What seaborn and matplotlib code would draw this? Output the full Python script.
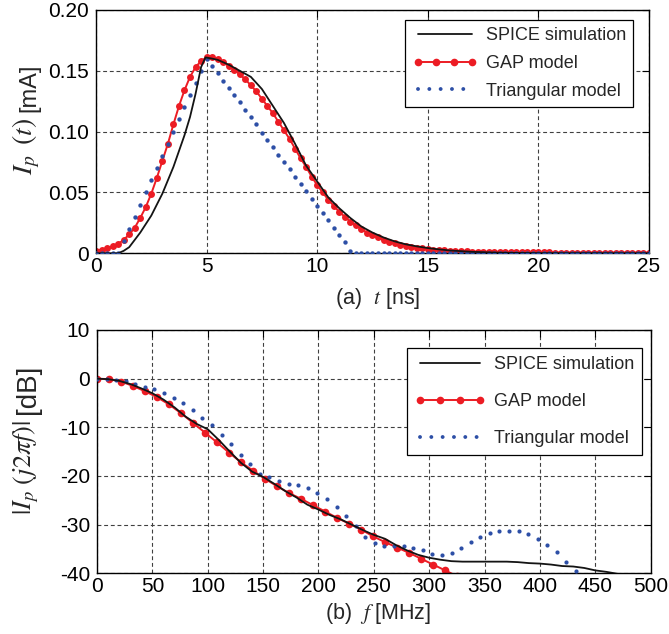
import numpy as np
import matplotlib
matplotlib.use("Agg")
import matplotlib.pyplot as plt
import seaborn as sns
from matplotlib.lines import Line2D

# ======================
# Data
# ======================

# (a) time domain, GAP model and triangular model sampled every 0.25 ns
t_ns = np.arange(0, 25.001, 0.25)

gap_i = [0.002, 0.003, 0.004, 0.0057, 0.0077, 0.011, 0.0155, 0.021, 0.029, 0.038,
         0.049, 0.062, 0.076, 0.090, 0.106, 0.121, 0.134, 0.145, 0.153, 0.158,
         0.161, 0.161, 0.160, 0.157, 0.154, 0.151, 0.147, 0.143, 0.138, 0.133,
         0.127, 0.121, 0.115, 0.108, 0.101, 0.094, 0.086, 0.078, 0.071, 0.063,
         0.056, 0.050, 0.044, 0.039, 0.034, 0.030, 0.026, 0.023, 0.020, 0.017,
         0.015, 0.013, 0.011, 0.0095, 0.0082, 0.0071, 0.0062, 0.0054, 0.0047, 0.0041,
         0.0036, 0.0031, 0.0027, 0.0024, 0.0021, 0.0019, 0.0017, 0.0015, 0.0014, 0.0013,
         0.0012, 0.0011, 0.0010, 0.0010, 0.0009, 0.0009, 0.0008, 0.0008, 0.0008, 0.0007,
         0.0007, 0.0007, 0.0007, 0.0006, 0.0006, 0.0006, 0.0006, 0.0006, 0.0006, 0.0005,
         0.0005, 0.0005, 0.0005, 0.0005, 0.0005, 0.0005, 0.0005, 0.0005, 0.0005, 0.0005,
         0.0005]

tri_i = ([0.0, 0.0, 0.0, 0.0, 0.0]
         + [0.01, 0.02, 0.03, 0.04, 0.05, 0.06, 0.07, 0.08,
            0.09, 0.10, 0.11, 0.12, 0.13, 0.14, 0.15, 0.16]
         + [0.154, 0.148, 0.142, 0.136, 0.130, 0.124, 0.118, 0.112, 0.106,
            0.099, 0.093, 0.087, 0.081, 0.075, 0.069, 0.063, 0.057, 0.051,
            0.045, 0.039, 0.033, 0.027, 0.021, 0.015, 0.009, 0.002]
         + [0.0] * 54)

# SPICE waveform (line only)
spice_t = [0, 1.0, 1.25, 1.5, 2.0, 2.5, 3.0, 3.5, 4.0, 4.25, 4.5, 4.75, 4.95,
           5.25, 5.5, 6.0, 6.5, 7.0, 7.5, 8.0, 8.5, 9.0, 9.5, 10.0, 10.5, 11.0,
           11.5, 12.0, 12.5, 13.0, 13.5, 14.0, 14.5, 15.0, 15.5, 16.0, 17.0,
           18.0, 19.0, 20.0, 25.0]
spice_i = [0, 0, 0.002, 0.005, 0.017, 0.031, 0.049, 0.071, 0.097, 0.112, 0.131,
           0.153, 0.161, 0.160, 0.159, 0.155, 0.150, 0.145, 0.135, 0.121, 0.107,
           0.090, 0.072, 0.059, 0.046, 0.037, 0.029, 0.022, 0.017, 0.013, 0.0098,
           0.0074, 0.0057, 0.0043, 0.0032, 0.0023, 0.0012, 0.0006, 0.0003, 0.0001,
           0.0]

# (b) spectrum magnitude in dB
spice_f = [0, 10, 20, 30, 40, 50, 60, 70, 80, 90, 100, 110, 120, 130, 140, 150,
           160, 170, 180, 190, 200, 210, 220, 230, 240, 250, 260, 270, 280, 290,
           300, 310, 320, 330, 340, 350, 360, 370, 380, 390, 400, 410, 420, 430,
           440, 450, 460, 475]
spice_db = [0, -0.1, -0.45, -1.1, -2.0, -3.0, -4.3, -5.9, -7.8, -9.3, -10.4,
            -12.6, -15.0, -17.3, -19.1, -20.2, -21.6, -23.1, -24.4, -25.9, -26.9,
            -28.0, -28.9, -30.0, -31.1, -32.1, -32.9, -34.2, -35.3, -36.2, -36.8,
            -37.2, -37.5, -37.6, -37.6, -37.6, -37.6, -37.6, -37.7, -37.9, -38.0,
            -38.2, -38.5, -38.6, -38.9, -39.4, -39.7, -40.3]

gap_f = [0, 10.8, 21.7, 32.5, 43.4, 54.2, 65.0, 75.9, 86.7, 97.6, 108.4, 119.2,
         130.1, 140.9, 151.8, 162.6, 173.4, 184.3, 195.1, 206.0, 216.8, 227.6,
         238.5, 249.3, 260.2, 271.0, 281.8, 292.7, 303.5, 314.4, 325.2]
gap_db = [0, -0.1, -0.6, -1.5, -2.6, -3.8, -5.3, -7.1, -9.1, -11.1, -13.1, -15.2,
          -17.2, -18.9, -20.6, -22.1, -23.5, -24.7, -26.0, -27.3, -28.6, -29.8,
          -31.0, -32.4, -33.6, -34.7, -35.8, -37.0, -38.2, -39.4, -40.6]

tri_f = [0, 8.65, 17.3, 26.0, 34.6, 43.3, 51.9, 60.6, 69.2, 77.9, 86.5, 95.2,
         103.8, 112.5, 121.1, 129.8, 138.4, 147.1, 155.7, 164.4, 173.0, 181.7,
         190.3, 199.0, 207.6, 216.3, 224.9, 233.6, 242.2, 250.9, 259.5, 268.2,
         276.8, 285.5, 294.1, 302.8, 311.4, 320.1, 328.7, 337.4, 346.0, 354.7,
         363.3, 372.0, 380.6, 389.3, 397.9, 406.6, 415.2, 423.9, 432.5, 441.2]
tri_db = [0, -0.05, -0.2, -0.4, -1.0, -1.65, -2.2, -2.9, -3.9, -5.1, -6.45, -8.0,
          -9.5, -11.5, -13.5, -15.7, -17.6, -19.5, -20.3, -21.0, -21.7, -21.8,
          -22.4, -23.4, -24.8, -26.3, -28.3, -30.3, -32.5, -33.8, -34.3, -34.4,
          -34.3, -34.7, -35.3, -36.1, -36.3, -35.8, -34.7, -33.5, -32.5, -31.7,
          -31.3, -31.2, -31.3, -31.9, -32.9, -34.1, -35.7, -37.6, -39.6, -42.0]

labels = ["SPICE simulation", "GAP model", "Triangular model"]

# ======================
# Style
# ======================

sns.set_theme(style="white")
plt.rcParams["font.family"] = ["Liberation Sans", "DejaVu Sans"]
plt.rcParams["mathtext.fontset"] = "stix"
plt.rcParams["axes.unicode_minus"] = False

red = "#ec1c24"
blue = "#2d4fa6"
black = "#141414"

fig = plt.figure(figsize=(6.69, 6.34), dpi=100)
ax1 = fig.add_axes([0.1435, 0.6005, 0.8266, 0.3838])
ax2 = fig.add_axes([0.1450, 0.0957, 0.8277, 0.3838])


def style_axes(ax):
    ax.set_axisbelow(True)
    ax.grid(True, color="0.25", linestyle=(0, (3.5, 2.5)), linewidth=0.8)
    ax.tick_params(direction="in", top=True, right=True, length=5, width=0.8,
                   labelsize=15, colors="black")
    ax.tick_params(axis="x", pad=3)
    ax.tick_params(axis="y", pad=5)
    for sp in ax.spines.values():
        sp.set_color("black")
        sp.set_linewidth(1.0)
    ax.set_xlabel("")
    ax.set_ylabel("")


def make_legend(ax, anchor, spacing, pad, hlen):
    handles = [
        Line2D([], [], color=black, lw=1.3),
        Line2D([], [], color=red, lw=1.4, marker="o", markersize=5.5,
               markeredgewidth=0),
        Line2D([], [], color=blue, lw=2.8, linestyle=(0, (0.01, 2.9)),
               dash_capstyle="round"),
    ]
    leg = ax.legend(handles, labels, loc="upper right", bbox_to_anchor=anchor,
                    borderaxespad=0, fontsize=13, numpoints=4,
                    handlelength=hlen, handletextpad=0.45, labelspacing=spacing,
                    borderpad=pad, fancybox=False, framealpha=1,
                    edgecolor="black")
    leg.get_frame().set_linewidth(0.9)


# ======================
# (a) Time domain
# ======================

sns.lineplot(x=t_ns, y=gap_i, ax=ax1, color=red, lw=1.4, marker="o",
             markersize=5, markeredgewidth=0, estimator=None, sort=False)
sns.scatterplot(x=t_ns, y=tri_i, ax=ax1, color=blue, s=10, linewidth=0,
                zorder=3)
sns.lineplot(x=spice_t, y=spice_i, ax=ax1, color=black, lw=1.3,
             estimator=None, sort=False, zorder=4)

ax1.set_xlim(0, 25)
ax1.set_ylim(0, 0.2)
ax1.set_xticks([0, 5, 10, 15, 20, 25])
ax1.set_yticks([0, 0.05, 0.10, 0.15, 0.20])
ax1.set_yticklabels(["0", "0.05", "0.10", "0.15", "0.20"])
style_axes(ax1)
make_legend(ax1, (0.9716, 0.959), 0.6, 0.4, 3.6)

# ======================
# (b) Frequency domain
# ======================

sns.lineplot(x=gap_f, y=gap_db, ax=ax2, color=red, lw=1.4, marker="o",
             markersize=5.5, markeredgewidth=0, estimator=None, sort=False)
sns.scatterplot(x=tri_f, y=tri_db, ax=ax2, color=blue, s=9, linewidth=0,
                zorder=3)
sns.lineplot(x=spice_f, y=spice_db, ax=ax2, color=black, lw=1.3,
             estimator=None, sort=False, zorder=4)

ax2.set_xlim(0, 500)
ax2.set_ylim(-40, 10)
ax2.set_xticks(range(0, 501, 50))
ax2.set_yticks([-40, -30, -20, -10, 0, 10])
ax2.set_yticklabels(["-40", "-30", "-20", "-10", "0", "10"])
style_axes(ax2)
make_legend(ax2, (0.984, 0.926), 1.1, 0.45, 3.9)

# ======================
# Axis labels
# ======================

# y labels: math part (bottom) and unit part (top), stacked along the text
fig.text(26 / 669, 1 - 118 / 634, r"$I_p\ \,(t)$", rotation=90,
         ha="center", va="top", fontsize=20)
fig.text(29 / 669, 1 - 112 / 634, "[mA]", rotation=90,
         ha="center", va="bottom", fontsize=17)
fig.text(26 / 669, 1 - 420 / 634, r"$|I_p\ (j2\pi f)|$", rotation=90,
         ha="center", va="top", fontsize=19)
fig.text(28 / 669, 1 - 414 / 634, "[dB]", rotation=90,
         ha="center", va="bottom", fontsize=20)

fig.text(378 / 669, 1 - 299 / 634, r"(a)  $t$ [ns]", ha="center",
         va="center", fontsize=15.5)
fig.text(378 / 669, 1 - 614 / 634, r"(b)  $f\ $[MHz]", ha="center",
         va="center", fontsize=15.5)

fig.savefig("out.png", dpi=100)
